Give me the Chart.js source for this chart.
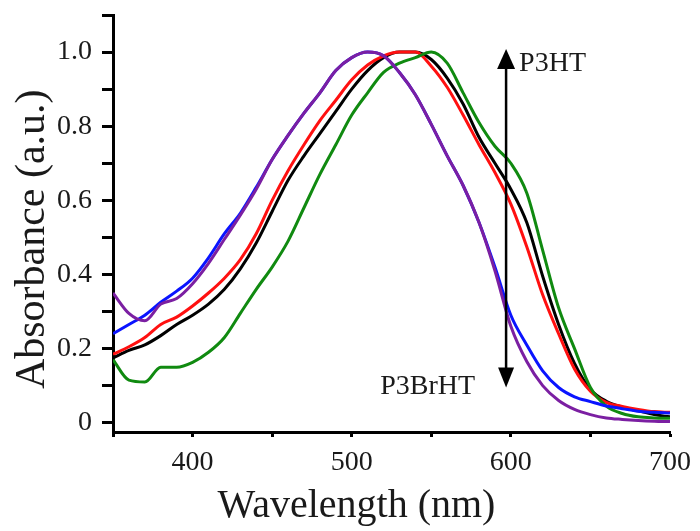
<!DOCTYPE html>
<html>
<head>
<meta charset="utf-8">
<script src="https://cdn.jsdelivr.net/npm/chart.js@4.4.1/dist/chart.umd.min.js"></script>
<style>
  body { margin: 0; background: #fff; }
  canvas { display: block; }
</style>
</head>
<body>
<canvas id="absChart" width="700" height="531"></canvas>
<script>
// wavelength grid (nm)
const wavelengths = [350, 360, 370, 380, 390, 400, 410, 420, 430, 440, 450, 460, 470, 480, 490, 500, 510, 520,
    530, 540, 550, 560, 570, 580, 590, 600, 610, 620, 630, 640, 650, 660, 670, 680, 690, 700];

// normalised absorbance
const greenAbs = [0.17, 0.115, 0.11, 0.15, 0.15, 0.163, 0.19, 0.23, 0.295, 0.36, 0.42, 0.49, 0.58, 0.67, 0.75, 0.83, 0.89, 0.945,
    0.97, 0.985, 1.0, 0.97, 0.89, 0.81, 0.746, 0.70, 0.62, 0.465, 0.31, 0.20, 0.095, 0.045, 0.025, 0.016, 0.013, 0.012];
const blackAbs = [0.175, 0.195, 0.21, 0.235, 0.265, 0.29, 0.32, 0.36, 0.415, 0.485, 0.57, 0.654, 0.72, 0.78, 0.84, 0.90, 0.95, 0.985,
    1.0, 1.0, 0.98, 0.93, 0.86, 0.77, 0.70, 0.63, 0.54, 0.395, 0.265, 0.16, 0.09, 0.058, 0.042, 0.032, 0.022, 0.016];
const redAbs = [0.185, 0.205, 0.23, 0.265, 0.285, 0.315, 0.35, 0.39, 0.44, 0.51, 0.60, 0.68, 0.75, 0.815, 0.87, 0.925, 0.965, 0.99,
    1.0, 1.0, 0.962, 0.905, 0.83, 0.75, 0.675, 0.59, 0.475, 0.345, 0.24, 0.145, 0.085, 0.055, 0.044, 0.036, 0.03, 0.028];
const blueAbs = [0.24, 0.265, 0.29, 0.325, 0.355, 0.39, 0.445, 0.51, 0.565, 0.635, 0.71, 0.775, 0.835, 0.89, 0.95, 0.985, 1.0, 0.99,
    0.945, 0.885, 0.805, 0.72, 0.64, 0.54, 0.42, 0.29, 0.21, 0.14, 0.095, 0.07, 0.057, 0.045, 0.038, 0.031, 0.028, 0.026];
const purpleAbs = [0.35, 0.295, 0.275, 0.32, 0.335, 0.375, 0.43, 0.495, 0.56, 0.63, 0.71, 0.775, 0.835, 0.89, 0.95, 0.985, 1.0, 0.99,
    0.945, 0.885, 0.805, 0.72, 0.64, 0.54, 0.41, 0.26, 0.165, 0.10, 0.06, 0.036, 0.022, 0.013, 0.009, 0.006, 0.004, 0.003];

const serif = '"Liberation Serif", "Times New Roman", serif';

// double arrow + labels
const arrowAt = 597, arrowTop = 1.008, arrowBottom = 0.095;
const arrowPlugin = {
    id: 'arrow',
    afterDatasetsDraw(chart) {
        const {ctx, scales: {x, y}} = chart;
        const ax = x.getPixelForValue(arrowAt);
        const top = y.getPixelForValue(arrowTop);
        const bot = y.getPixelForValue(arrowBottom);
        ctx.save();
        ctx.strokeStyle = '#000';
        ctx.fillStyle = '#000';
        ctx.lineWidth = 2.5;
        ctx.beginPath();
        ctx.moveTo(ax, top + 15);
        ctx.lineTo(ax, bot - 15);
        ctx.stroke();
        ctx.beginPath();
        ctx.moveTo(ax, top);
        ctx.lineTo(ax - 9, top + 20);
        ctx.lineTo(ax + 9, top + 20);
        ctx.closePath();
        ctx.fill();
        ctx.beginPath();
        ctx.moveTo(ax, bot);
        ctx.lineTo(ax - 8, bot - 20);
        ctx.lineTo(ax + 8, bot - 20);
        ctx.closePath();
        ctx.fill();

        ctx.fillStyle = '#1a1a1a';
        ctx.font = '28px ' + serif;
        ctx.textBaseline = 'middle';
        ctx.textAlign = 'left';
        ctx.fillText('P3HT', ax + 13, y.getPixelForValue(0.97));
        ctx.textAlign = 'right';
        ctx.fillText('P3BrHT', ax - 31, y.getPixelForValue(0.097));
        ctx.restore();
    }
};

const makeSet = (data, color) => ({
    data: data.map((v, i) => ({x: wavelengths[i], y: v})),
    borderColor: color,
    borderWidth: 3,
    pointRadius: 0,
    fill: false,
    cubicInterpolationMode: 'monotone'
});

new Chart(document.getElementById('absChart'), {
    type: 'line',
    data: {
        datasets: [
            makeSet(purpleAbs, '#7b1fa2'),
            makeSet(blueAbs, '#0a14ff'),
            makeSet(greenAbs, '#108a10'),
            makeSet(redAbs, '#ff1010'),
            makeSet(blackAbs, '#000000')
        ]
    },
    options: {
        responsive: false,
        devicePixelRatio: 1,
        animation: false,
        layout: { padding: { top: 15, right: 26, left: 0, bottom: 0 } },
        plugins: { legend: { display: false }, tooltip: { enabled: false } },
        scales: {
            x: {
                type: 'linear',
                min: 350,
                max: 700,
                afterFit: (scale) => { scale.height = 99; },
                border: { color: '#000', width: 3 },
                grid: { drawOnChartArea: false, tickLength: 5, tickWidth: 3, tickColor: '#000' },
                ticks: {
                    stepSize: 50,
                    maxRotation: 0,
                    autoSkip: false,
                    padding: 9,
                    color: '#1a1a1a',
                    font: { family: serif, size: 28 },
                    callback: (v) => (v % 100 === 0 ? String(v) : '')
                },
                title: {
                    display: true,
                    text: 'Wavelength (nm)       ',
                    color: '#1a1a1a',
                    font: { family: serif, size: 40, lineHeight: 1 },
                    padding: { top: 0, bottom: 5 }
                }
            },
            y: {
                min: -0.025,
                max: 1.1,
                afterFit: (scale) => {
                    scale.width = 113;
                    scale.paddingTop = 0;
                    scale.paddingBottom = 0;
                },
                border: { color: '#000', width: 3 },
                grid: { drawOnChartArea: false, tickLength: 11, tickWidth: 3, tickColor: '#000' },
                ticks: {
                    stepSize: 0.1,
                    includeBounds: false,
                    autoSkip: false,
                    padding: 10,
                    color: '#1a1a1a',
                    font: { family: serif, size: 28 },
                    callback: (v) => {
                        const k = Math.round(v * 10);
                        if (k % 2 !== 0) return '';
                        return k === 0 ? '0' : (k / 10).toFixed(1);
                    }
                },
                title: {
                    display: true,
                    text: 'Absorbance (a.u.)   ',
                    color: '#1a1a1a',
                    font: { family: serif, size: 42, lineHeight: 1 },
                    padding: { top: 12, bottom: 0 }
                }
            }
        }
    },
    plugins: [arrowPlugin]
});
</script>
</body>
</html>
